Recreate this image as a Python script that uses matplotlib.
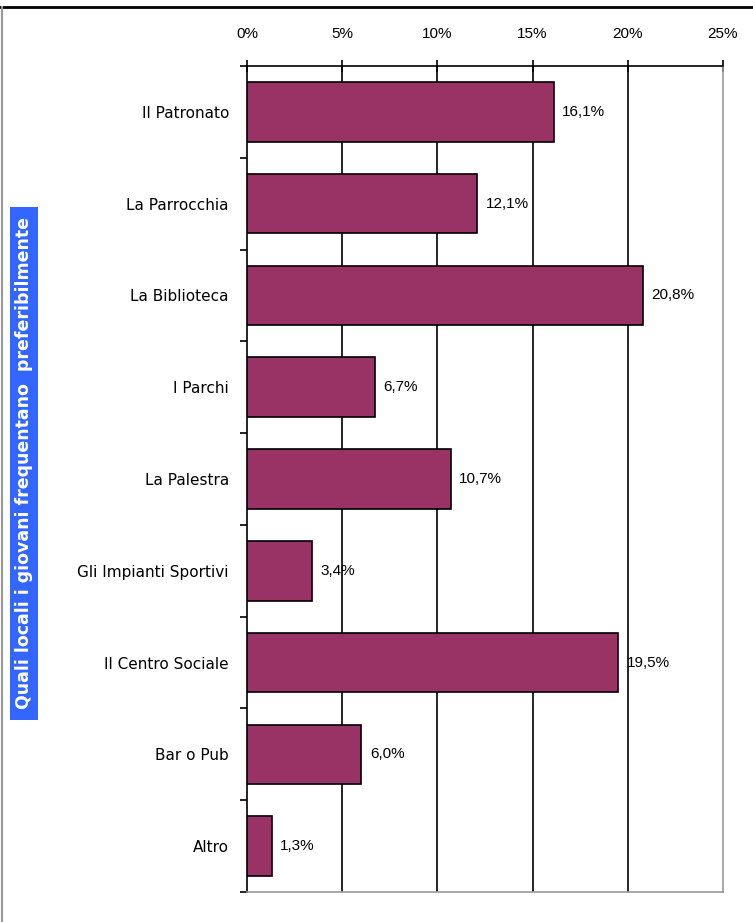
import matplotlib
matplotlib.use("Agg")
import matplotlib.pyplot as plt
from matplotlib.lines import Line2D
from matplotlib.patches import Rectangle
import numpy as np

categories = ["Il Patronato", "La Parrocchia", "La Biblioteca", "I Parchi", "La Palestra",
              "Gli Impianti Sportivi", "Il Centro Sociale", "Bar o Pub", "Altro"]
values = [16.1, 12.1, 20.8, 6.7, 10.7, 3.4, 19.5, 6.0, 1.3]
xticks = [0, 5, 10, 15, 20, 25]
xticklabels = ["0%", "5%", "10%", "15%", "20%", "25%"]
ylabel = "Quali locali i giovani frequentano  preferibilmente"

plt.rcParams['font.family'] = ['Liberation Sans', 'DejaVu Sans']

fig = plt.figure(figsize=(7.53, 9.22), dpi=100)
ax = fig.add_axes([247/753, 1-892/922, (723-247)/753, (892-66)/922])

y = np.arange(len(categories))
ax.barh(y, values, height=0.65, color="#993366", edgecolor="black", linewidth=1.2, zorder=3)
ax.set_ylim(len(categories)-0.5, -0.5)
ax.set_xlim(0, 25)

for yi, v in zip(y, values):
    ax.text(v + 0.45, yi, f"{v:.1f}%".replace(".", ","), va="center", ha="left", fontsize=11, zorder=4)

ax.xaxis.tick_top()
ax.set_xticks(xticks)
ax.set_xticklabels(xticklabels, fontsize=11)
ax.tick_params(axis="x", direction="inout", length=8, width=1.2, pad=14)
ax.set_yticks(y)
ax.set_yticklabels(categories, fontsize=11, family=['DejaVu Sans'])
ax.tick_params(axis="y", length=0, pad=13)
ax.set_yticks(np.arange(len(categories)+1) - 0.5, minor=True)
ax.tick_params(axis="y", which="minor", length=5, width=1.2, direction="out")

for xv in xticks[1:-1]:
    ax.axvline(xv, color="black", linewidth=1.2, zorder=1)

ax.spines["left"].set_linewidth(1.2)
ax.spines["top"].set_linewidth(1.2)
ax.spines["right"].set_color("#999999")
ax.spines["bottom"].set_color("#999999")
ax.spines["right"].set_linewidth(1.2)
ax.spines["bottom"].set_linewidth(1.2)

fig.add_artist(Rectangle((10/753, 1-720/922), 28/753, 513/922, transform=fig.transFigure,
                         facecolor="#3366FF", edgecolor="none"))
fig.text(24/753, 1-463/922, ylabel, rotation=90, ha="center", va="center",
         color="white", fontsize=12.5, fontweight="bold", family=['DejaVu Sans'])

fig.add_artist(Line2D([0, 1], [1-7/922, 1-7/922], color="black", linewidth=2, transform=fig.transFigure))
fig.add_artist(Line2D([2/753, 2/753], [0, 1-7/922], color="#999999", linewidth=1.5, transform=fig.transFigure))

fig.savefig("out.png", dpi=100)
